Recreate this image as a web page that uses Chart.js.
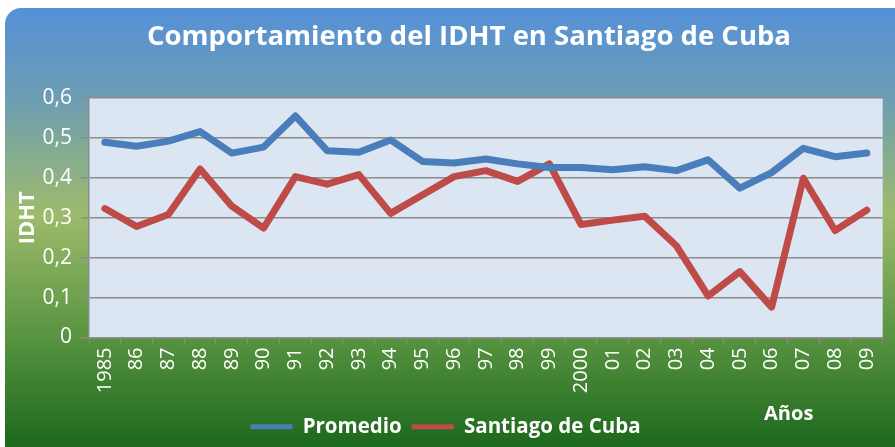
<!DOCTYPE html>
<html>
<head>
<meta charset="utf-8">
<script src="https://cdn.jsdelivr.net/npm/chart.js@4.4.1/dist/chart.umd.min.js"></script>
<style>
  html, body { margin: 0; padding: 0; background: #ffffff; }
  #wrap { width: 895px; height: 447px; }
</style>
</head>
<body>
<div id="wrap"><canvas id="idhtChart" width="895" height="447"></canvas></div>
<script>
const years = ['1985', '86', '87', '88', '89', '90', '91', '92', '93', '94', '95', '96', '97',
    '98', '99', '2000', '01', '02', '03', '04', '05', '06', '07', '08', '09'];
const promedio = [0.489, 0.479, 0.492, 0.516, 0.462, 0.477, 0.555, 0.468, 0.464, 0.495, 0.441, 0.437, 0.447,
    0.435, 0.426, 0.426, 0.420, 0.428, 0.418, 0.445, 0.374, 0.413, 0.474, 0.453, 0.462];
const santiago = [0.323, 0.278, 0.308, 0.422, 0.329, 0.274, 0.403, 0.384, 0.408, 0.311, 0.357, 0.403, 0.418,
    0.391, 0.435, 0.283, 0.294, 0.304, 0.230, 0.104, 0.165, 0.076, 0.399, 0.268, 0.319];
const yTicks = [0, 0.1, 0.2, 0.3, 0.4, 0.5, 0.6];
const chartTitle = 'Comportamiento del IDHT en Santiago de Cuba';

const fontFamily = '"Open Sans", "DejaVu Sans", sans-serif';

// card background, plot fill, the title and the "Años" label
const backdrop = {
    id: 'backdrop',
    beforeDraw(chart) {
        const { ctx, chartArea } = chart;
        ctx.save();
        const grad = ctx.createLinearGradient(0, 8, 0, 447);
        grad.addColorStop(0, '#5590d8');
        grad.addColorStop(0.2, '#6c9db4');
        grad.addColorStop(0.47, '#9dbb6c');
        grad.addColorStop(0.74, '#5a9542');
        grad.addColorStop(1, '#1c681c');
        ctx.fillStyle = grad;
        ctx.beginPath();
        ctx.roundRect(5, 8, 910, 460, 16);
        ctx.fill();
        ctx.fillStyle = '#dce6f2';
        ctx.fillRect(chartArea.left, chartArea.top, chartArea.right - chartArea.left, chartArea.bottom - chartArea.top);
        ctx.restore();
    },
    afterDraw(chart) {
        const { ctx, chartArea } = chart;
        ctx.save();
        ctx.fillStyle = '#ffffff';
        ctx.textAlign = 'center';
        ctx.textBaseline = 'middle';
        ctx.font = 'bold 27.5px ' + fontFamily;
        ctx.fillText(chartTitle, 469, 37);
        ctx.font = 'bold 20px ' + fontFamily;
        ctx.fillText('Años', chartArea.right - 94, chartArea.bottom + 77);
        ctx.restore();
    },
};

new Chart(document.getElementById('idhtChart'), {
    type: 'line',
    data: {
        labels: years,
        datasets: [
            {
                label: 'Promedio',
                data: promedio,
                borderColor: '#4a7ebb',
                backgroundColor: '#4a7ebb',
                borderWidth: 7,
            },
            {
                label: 'Santiago de Cuba',
                data: santiago,
                borderColor: '#be4b48',
                backgroundColor: '#be4b48',
                borderWidth: 7,
            },
        ],
    },
    options: {
        responsive: false,
        animation: false,
        layout: {
            padding: { left: 5, right: 9, top: 98, bottom: 0 },
        },
        elements: {
            line: { tension: 0, borderJoinStyle: 'round', borderCapStyle: 'round' },
            point: { radius: 0 },
        },
        scales: {
            x: {
                offset: true,
                afterFit: (scale) => { scale.height = 69; },
                grid: {
                    offset: true,
                    drawOnChartArea: false,
                    color: '#8c8c8c',
                    tickLength: 6,
                },
                border: { color: '#8c8c8c', width: 1.5 },
                ticks: {
                    color: '#ffffff',
                    font: { family: fontFamily, size: 20 },
                    minRotation: 90,
                    maxRotation: 90,
                    autoSkip: false,
                    padding: 4,
                },
            },
            y: {
                min: 0,
                max: 0.6,
                afterFit: (scale) => { scale.width = 84; },
                afterBuildTicks: (scale) => { scale.ticks = yTicks.map((v) => ({ value: v })); },
                grid: {
                    color: '#8c8c8c',
                    lineWidth: 1.5,
                    tickLength: 8,
                },
                border: { color: '#8c8c8c', width: 1.5 },
                ticks: {
                    color: '#ffffff',
                    font: { family: fontFamily, size: 21 },
                    padding: 9,
                    callback: (v) => (v === 0 ? '0' : v.toFixed(1).replace('.', ',')),
                },
                title: {
                    display: true,
                    text: 'IDHT',
                    color: '#ffffff',
                    font: { family: fontFamily, size: 22, weight: 'bold' },
                    padding: { top: 10, bottom: 0 },
                },
            },
        },
        plugins: {
            title: { display: false },
            legend: {
                position: 'bottom',
                labels: {
                    color: '#ffffff',
                    font: { family: fontFamily, size: 20.5, weight: 'bold' },
                    boxWidth: 42,
                    boxHeight: 5,
                    padding: 10,
                    generateLabels: (chart) => chart.data.datasets.map((ds, i) => ({
                        text: ds.label,
                        fillStyle: ds.borderColor,
                        strokeStyle: ds.borderColor,
                        lineWidth: 0,
                        fontColor: '#ffffff',
                        datasetIndex: i,
                    })),
                },
            },
            tooltip: { enabled: false },
        },
    },
    plugins: [backdrop],
});
</script>
</body>
</html>
